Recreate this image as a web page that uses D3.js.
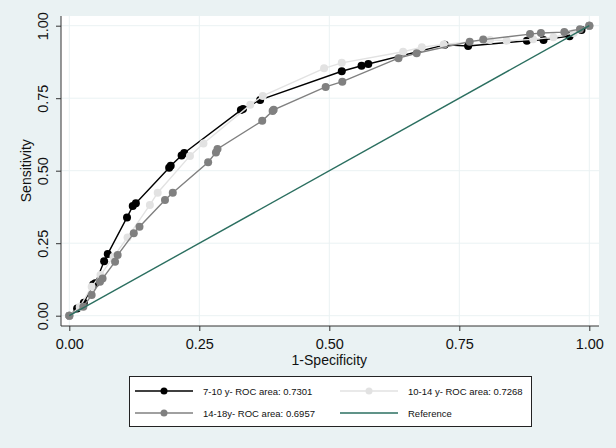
<!DOCTYPE html>
<html>
<head>
<meta charset="utf-8">
<script src="https://cdn.jsdelivr.net/npm/d3@7"></script>
<style>
  body { margin: 0; background: #eaf2f3; }
  svg { display: block; font-family: "Liberation Sans", Arial, sans-serif; }
</style>
</head>
<body>
<div id="chart"></div>
<script>
// ROC curves: [1-specificity, sensitivity]
const roc710 = [[0,0],[0.015,0.025],[0.028,0.045],[0.046,0.108],[0.05,0.112],[0.067,0.188],[0.074,0.213],
  [0.111,0.339],[0.122,0.378],[0.128,0.388],[0.192,0.51],[0.195,0.517],[0.216,0.552],[0.221,0.561],
  [0.330,0.709],[0.334,0.713],[0.367,0.744],[0.524,0.843],[0.562,0.862],[0.575,0.868],[0.722,0.934],
  [0.767,0.930],[0.880,0.948],[0.912,0.951],[0.962,0.964],[0.985,0.985],[1,1]];
const roc1014 = [[0,0],[0.02,0.03],[0.043,0.1],[0.06,0.14],[0.085,0.203],[0.112,0.27],[0.155,0.382],
  [0.170,0.424],[0.232,0.551],[0.258,0.594],[0.348,0.727],[0.372,0.758],[0.490,0.853],[0.524,0.872],
  [0.642,0.910],[0.678,0.926],[0.72,0.935],[0.809,0.951],[0.841,0.948],[0.892,0.953],[0.931,0.960],
  [0.97,0.975],[1,1]];
const roc1418 = [[0,0],[0.027,0.031],[0.043,0.071],[0.059,0.117],[0.064,0.128],[0.088,0.186],[0.093,0.209],
  [0.124,0.284],[0.135,0.307],[0.184,0.399],[0.199,0.424],[0.267,0.529],[0.282,0.563],[0.285,0.575],
  [0.371,0.672],[0.391,0.706],[0.393,0.71],[0.493,0.789],[0.525,0.807],[0.633,0.888],[0.668,0.905],
  [0.770,0.945],[0.796,0.952],[0.886,0.971],[0.907,0.975],[0.952,0.978],[0.982,0.988],[1,1]];
const refLine = [[0,0],[1,1]];
const tickValues = [0, 0.25, 0.5, 0.75, 1];
const legendLabels = ["7-10 y- ROC area: 0.7301", "10-14 y- ROC area: 0.7268", "14-18y- ROC area: 0.6957", "Reference"];

const width = 616, height = 448;
const svg = d3.select('#chart').append('svg').attr('width', width).attr('height', height);
svg.append('rect').attr('width', width).attr('height', height).attr('fill', '#eaf2f3');

// plot region
const plot = { left: 61, right: 599, top: 16, bottom: 326 };
svg.append('rect')
  .attr('x', plot.left).attr('y', plot.top)
  .attr('width', plot.right - plot.left).attr('height', plot.bottom - plot.top)
  .attr('fill', '#fff');

const x = d3.scaleLinear().domain([0, 1]).range([69.3, 589.3]);
const y = d3.scaleLinear().domain([0, 1]).range([315.7, 25.7]);

// grid
const grid = svg.append('g').attr('stroke', '#eaf2f3').attr('stroke-width', 1);
tickValues.forEach(t => {
  grid.append('line').attr('x1', x(t)).attr('x2', x(t)).attr('y1', plot.top).attr('y2', plot.bottom);
  grid.append('line').attr('y1', y(t)).attr('y2', y(t)).attr('x1', plot.left).attr('x2', plot.right);
});

// axes
const fmt = d3.format('.2f');
const xAxis = svg.append('g')
  .attr('transform', `translate(0,${plot.bottom})`)
  .call(d3.axisBottom(x).tickValues(tickValues).tickFormat(fmt).tickSize(5).tickSizeOuter(0));
xAxis.select('.domain').attr('d', `M${plot.left},0H${plot.right}`);
xAxis.selectAll('text').attr('font-size', 14.5).attr('dy', null).attr('y', 23).attr('fill', '#111');

const yAxis = svg.append('g')
  .attr('transform', `translate(${plot.left},0)`)
  .call(d3.axisLeft(y).tickValues(tickValues).tickFormat(fmt).tickSize(5).tickSizeOuter(0));
yAxis.select('.domain').attr('d', `M0,${plot.top}V${plot.bottom}`);
yAxis.selectAll('text')
  .attr('font-size', 14.5).attr('fill', '#111')
  .attr('text-anchor', 'middle').attr('x', null).attr('dy', null)
  .attr('transform', 'translate(-13,0) rotate(-90)');
svg.selectAll('.domain, .tick line').attr('stroke', '#333');

svg.append('text').attr('x', x(0.5)).attr('y', 365).attr('text-anchor', 'middle')
  .attr('font-size', 14).attr('fill', '#111').text('1-Specificity');
svg.append('text').attr('transform', `translate(31,${y(0.5)}) rotate(-90)`).attr('text-anchor', 'middle')
  .attr('font-size', 14).attr('fill', '#111').text('Sensitivity');

// series
const series = [
  { data: roc710, color: '#000000', marker: true },
  { data: roc1014, color: '#e2e2e2', marker: true },
  { data: roc1418, color: '#808080', marker: true },
  { data: refLine, color: '#2b6f60', marker: false }
];
const line = d3.line().x(d => x(d[0])).y(d => y(d[1]));
series.forEach(s => {
  svg.append('path').datum(s.data).attr('d', line)
    .attr('fill', 'none').attr('stroke', s.color).attr('stroke-width', 1.4);
  if (s.marker) {
    svg.append('g').selectAll('circle').data(s.data).enter().append('circle')
      .attr('cx', d => x(d[0])).attr('cy', d => y(d[1])).attr('r', 4).attr('fill', s.color);
  }
});

// legend
const lg = svg.append('g');
lg.append('rect').attr('x', 129.5).attr('y', 376.5).attr('width', 402).attr('height', 50)
  .attr('fill', '#fff').attr('stroke', '#222').attr('stroke-width', 1);
const legendPos = [[135, 391], [340, 391], [135, 413], [340, 413]];
series.forEach((s, i) => {
  const [lx, ly] = legendPos[i];
  lg.append('line').attr('x1', lx).attr('x2', lx + 58).attr('y1', ly).attr('y2', ly)
    .attr('stroke', s.color).attr('stroke-width', 1.4);
  if (s.marker) lg.append('circle').attr('cx', lx + 29).attr('cy', ly).attr('r', 3.5).attr('fill', s.color);
  lg.append('text').attr('x', lx + 68).attr('y', ly + 3.5).attr('font-size', 9.5).attr('fill', '#111')
    .text(legendLabels[i]);
});
</script>
</body>
</html>
